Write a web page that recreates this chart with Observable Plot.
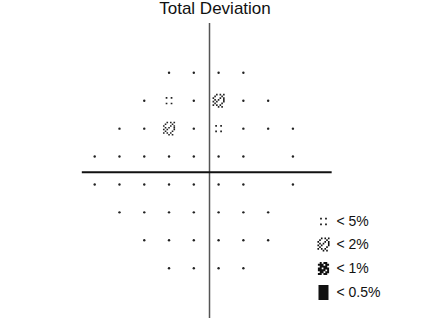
<!DOCTYPE html>
<html><head><meta charset="utf-8">
<script src="https://cdn.jsdelivr.net/npm/d3@7"></script>
<script src="https://cdn.jsdelivr.net/npm/@observablehq/plot@0.6"></script>
<style>
body{margin:0;background:#fff;font-family:"Liberation Sans",Arial,sans-serif}
#title{width:439px;height:16px;line-height:17px;font-size:17px;text-align:center;padding-right:9px;box-sizing:border-box;color:#111;white-space:nowrap}
</style></head><body>
<div id="title"></div>
<div id="chart"></div>
<script>
const title = "Total Deviation";
// test locations (degrees): one entry per row
const rowY = [21, 15, 9, 3, -3, -9, -15, -21];
const rowX = [
  [-9, -3, 3, 9],
  [-15, -9, -3, 3, 9, 15],
  [-21, -15, -9, -3, 3, 9, 15, 21],
  [-27, -21, -15, -9, -3, 3, 9, 21],
  [-27, -21, -15, -9, -3, 3, 9, 21],
  [-21, -15, -9, -3, 3, 9, 15],
  [-15, -9, -3, 3, 9, 15],
  [-9, -3, 3, 9]
];
// probability class at each location ("n" = normal)
const rowClass = [
  ["n", "n", "n", "n"],
  ["n", "p5", "n", "p2", "n", "n"],
  ["n", "n", "p2", "n", "p5", "n", "n", "n"],
  ["n", "n", "n", "n", "n", "n", "n", "n"],
  ["n", "n", "n", "n", "n", "n", "n", "n"],
  ["n", "n", "n", "n", "n", "n", "n"],
  ["n", "n", "n", "n", "n", "n"],
  ["n", "n", "n", "n"]
];
const legendClasses = ["p5", "p2", "p1", "p05"];
const legendLabels = ["< 5%", "< 2%", "< 1%", "< 0.5%"];

document.getElementById("title").textContent = title;

const points = [];
rowY.forEach((y, r) => rowX[r].forEach((x, c) => points.push({x, y, cls: rowClass[r][c]})));

// layout (px-derived, not data)
const layout = {
  xDomain: [-49.81, 56.49], yDomain: [-35.25, 33.10],
  hAxisX: [-30, 30.5], vAxisY: [-31.8, 31.6],
  legendSymX: 28.4, legendTextX: 31.55,
  legendY: [-10.96, -15.9, -21.06, -26.22]
};
const legend = legendClasses.map((cls, i) => ({cls, label: legendLabels[i], y: layout.legendY[i]}));

function pattern(rows, pitch, cell) {
  return {
    draw(ctx) {
      const h = rows.length, w = rows[0].length;
      const x0 = -(w - 1) * pitch / 2, y0 = -(h - 1) * pitch / 2;
      for (let j = 0; j < h; j++) for (let i = 0; i < w; i++) {
        if (rows[j][i] === "x") ctx.rect(x0 + i * pitch - cell / 2, y0 + j * pitch - cell / 2, cell, cell);
      }
    }
  };
}
const symbols = {
  p5: {draw(ctx) { for (const sx of [-2.5, 2.5]) for (const sy of [-2.8, 2.8]) ctx.rect(sx - 0.85, sy - 0.85, 1.7, 1.7); }},
  p2: pattern([
    "..x.x.x",
    ".x...x.",
    "x...x.x",
    ".x.x..x",
    "x.x...x",
    ".x...x.",
    "x.x.x..",
    "...x.x."
  ], 1.75, 1.6),
  p1: pattern([
    ".x.xx.",
    "xxx.xx",
    ".xxxx.",
    "xx.xxx",
    "xxxx.x",
    ".xx.xx",
    "xx.xx."
  ], 1.85, 1.95),
  p05: {draw(ctx) { ctx.rect(-5, -7.5, 10, 15); }}
};

const marks = [
  Plot.ruleX([0], {y1: layout.vAxisY[0], y2: layout.vAxisY[1], dx: 3.3, stroke: "#555", strokeWidth: 1.5}),
  Plot.ruleY([0], {x1: layout.hAxisX[0], x2: layout.hAxisX[1], dy: 1.8, stroke: "#111", strokeWidth: 2}),
  Plot.dot(points.filter(d => d.cls === "n"), {x: "x", y: "y", r: 1.2, fill: "#222", stroke: "none"})
];
for (const cls of legendClasses) {
  marks.push(Plot.dot(points.filter(d => d.cls === cls), {x: "x", y: "y", r: 4, symbol: symbols[cls], fill: "#222", stroke: "none"}));
  marks.push(Plot.dot(legend.filter(d => d.cls === cls), {x: layout.legendSymX, y: "y", r: 4, symbol: symbols[cls], fill: "#111", stroke: "none"}));
}
marks.push(Plot.text(legend, {x: layout.legendTextX, y: "y", text: "label", textAnchor: "start", fontSize: 14, fill: "#111"}));

const chart = Plot.plot({
  width: 439, height: 318,
  margin: 0,
  x: {domain: layout.xDomain, axis: null},
  y: {domain: layout.yDomain, axis: null},
  style: {fontFamily: "'Liberation Sans', Arial, sans-serif", background: "#fff"},
  marks
});
document.getElementById("chart").appendChild(chart);
</script>
</body></html>
